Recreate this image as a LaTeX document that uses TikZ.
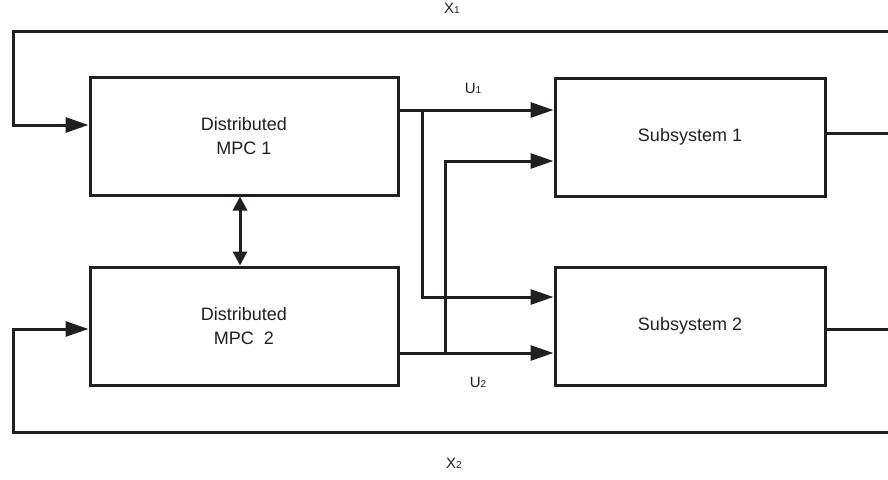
\documentclass[tikz,border=0pt]{standalone}
\usepackage{fontspec}
\setmainfont{Liberation Sans}
\usetikzlibrary{arrows.meta}
\definecolor{ink}{HTML}{231F20}
\begin{document}
\begin{tikzpicture}[x=1pt,y=-1pt, line width=3pt, draw=ink, color=ink,
  blk/.style={draw=ink, line width=3pt, inner sep=0pt, align=center,
    font=\fontsize{18}{24}\selectfont, text=ink},
  lnk/.style={-{Triangle[length=23pt,width=15pt]}},
  dbl/.style={{Triangle[length=14pt,width=14pt]}-{Triangle[length=14pt,width=14pt]}},
  lbl/.style={font=\fontsize{15}{15}\selectfont, inner sep=0pt, text=ink},
  sub/.style={}]
\useasboundingbox (0,0) rectangle (888,479);
\fill[white] (0,0) rectangle (888,479);
% blocks
\node[blk, minimum width=308pt, minimum height=118pt] (m1) at (244,136) {Distributed\\MPC 1};
\node[blk, minimum width=308pt, minimum height=118pt] (m2) at (244,326) {Distributed\\MPC\ \ 2};
\node[blk, minimum width=270pt, minimum height=118pt] (s1) at (690,137) {Subsystem 1};
\node[blk, minimum width=270pt, minimum height=118pt] (s2) at (690,326) {Subsystem 2};
% coordinates
\coordinate (fb1r) at (888,31);
\coordinate (fb1l) at (13,31);
\coordinate (in1) at (13,125);
\coordinate (fb2r) at (888,432);
\coordinate (fb2l) at (13,432);
\coordinate (in2) at (13,329);
\coordinate (o1) at (888,133);
\coordinate (o2) at (888,329);
\coordinate (u1) at (0,110);
\coordinate (u2) at (0,353);
\coordinate (b1) at (422,110);
\coordinate (b1d) at (422,297);
\coordinate (b2) at (445,353);
\coordinate (b2u) at (445,161);
% outputs
\draw (o1 -| s1.east) -- (o1);
\draw (o2 -| s2.east) -- (o2);
% feedback
\draw[lnk] (fb1r) -- (fb1l) -- (in1) -- (in1 -| m1.west);
\draw[lnk] (fb2r) -- (fb2l) -- (in2) -- (in2 -| m2.west);
% control signals
\draw[lnk] (u1 -| m1.east) -- (u1 -| s1.west);
\draw[lnk] (b1) -- (b1d) -- (b1d -| s2.west);
\draw[lnk] (u2 -| m2.east) -- (u2 -| s2.west);
\draw[lnk] (b2) -- (b2u) -- (b2u -| s1.west);
% communication
\draw[dbl] ([xshift=-4pt]m1.south) -- ([xshift=-4pt]m2.north);
% labels
\node[lbl] (lx1) at (452,8) {X{\fontsize{10}{10}\selectfont 1}};
\node[lbl] (lu1) at (473,88) {U{\fontsize{10}{10}\selectfont 1}};
\node[lbl] (lu2) at (478,382) {U{\fontsize{10}{10}\selectfont 2}};
\node[lbl] (lx2) at (454,463) {X{\fontsize{10}{10}\selectfont 2}};
\end{tikzpicture}
\end{document}
